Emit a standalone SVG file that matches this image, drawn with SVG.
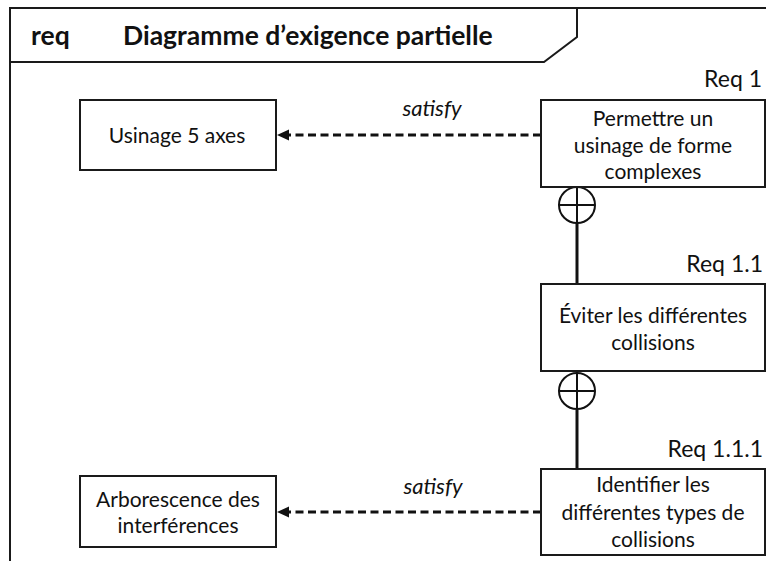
<svg xmlns="http://www.w3.org/2000/svg" width="766" height="561" viewBox="0 0 766 561">
  <style>
    .frame { fill: none; stroke: #1a1a1a; stroke-width: 2; }
    .box { fill: #ffffff; stroke: #1a1a1a; stroke-width: 2; }
    .txt { font-family: Lato, "Open Sans", "Liberation Sans", sans-serif; font-size: 21px; fill: #111111; text-anchor: middle; }
    .req { font-family: Lato, "Open Sans", "Liberation Sans", sans-serif; font-size: 23px; fill: #111111; text-anchor: end; }
    .hdr { font-family: Lato, "Open Sans", "Liberation Sans", sans-serif; font-size: 26.5px; font-weight: bold; fill: #111111; }
    .lbl { font-family: Lato, "Open Sans", "Liberation Sans", sans-serif; font-size: 22px; font-style: italic; fill: #111111; text-anchor: middle; }
    .dash { fill: none; stroke: #111111; stroke-width: 3; stroke-dasharray: 8 4.5; }
    .solid { fill: none; stroke: #111111; stroke-width: 3; }
    .cont { fill: #ffffff; stroke: #111111; stroke-width: 2; }
  </style>
  <rect width="766" height="561" fill="#ffffff"/>

  <g id="frame">
    <path class="frame" d="M10,561 L10,8 L766,8"/>
    <path class="frame" d="M10,62 L544,62 L577,37 L577,8"/>
    <text class="hdr" x="31" y="45">req</text>
    <text class="hdr" x="123" y="45">Diagramme d’exigence partielle</text>
  </g>

  <g id="connectors">
    <line class="dash" x1="541" y1="135" x2="288" y2="135"/>
    <path d="M277,135 L289,129.5 L289,140.5 Z" fill="#111111"/>
    <text class="lbl" x="432" y="116">satisfy</text>

    <line class="dash" x1="541" y1="512" x2="288" y2="512"/>
    <path d="M277,512 L289,506.5 L289,517.5 Z" fill="#111111"/>
    <text class="lbl" x="433" y="494">satisfy</text>

    <line class="solid" x1="577" y1="223" x2="577" y2="284"/>
    <circle class="cont" cx="577" cy="205" r="18"/>
    <line class="cont" x1="559" y1="205" x2="595" y2="205"/>
    <line class="cont" x1="577" y1="187" x2="577" y2="223"/>

    <line class="solid" x1="577" y1="410" x2="577" y2="469"/>
    <circle class="cont" cx="577" cy="391" r="18"/>
    <line class="cont" x1="559" y1="391" x2="595" y2="391"/>
    <line class="cont" x1="577" y1="373" x2="577" y2="409"/>
  </g>

  <g id="usinage5axes">
    <rect class="box" x="80" y="100" width="196" height="70"/>
    <text class="txt" x="177" y="143">Usinage 5 axes</text>
  </g>

  <g id="req1">
    <text class="req" x="762" y="87">Req 1</text>
    <rect class="box" x="541" y="100" width="224" height="87"/>
    <text class="txt" x="653" y="126">Permettre un</text>
    <text class="txt" x="653" y="152.5">usinage de forme</text>
    <text class="txt" x="653" y="179">complexes</text>
  </g>

  <g id="req1_1">
    <text class="req" x="763" y="272">Req 1.1</text>
    <rect class="box" x="541" y="284" width="224" height="87"/>
    <text class="txt" x="653" y="323">Éviter les différentes</text>
    <text class="txt" x="653" y="350">collisions</text>
  </g>

  <g id="req1_1_1">
    <text class="req" x="763" y="457">Req 1.1.1</text>
    <rect class="box" x="541" y="469" width="224" height="86"/>
    <text class="txt" x="653" y="492">Identifier les</text>
    <text class="txt" x="653" y="519.5">différentes types de</text>
    <text class="txt" x="653" y="547">collisions</text>
  </g>

  <g id="arborescence">
    <rect class="box" x="80" y="476" width="196" height="71"/>
    <text class="txt" x="178" y="507">Arborescence des</text>
    <text class="txt" x="178" y="533">interférences</text>
  </g>
</svg>
